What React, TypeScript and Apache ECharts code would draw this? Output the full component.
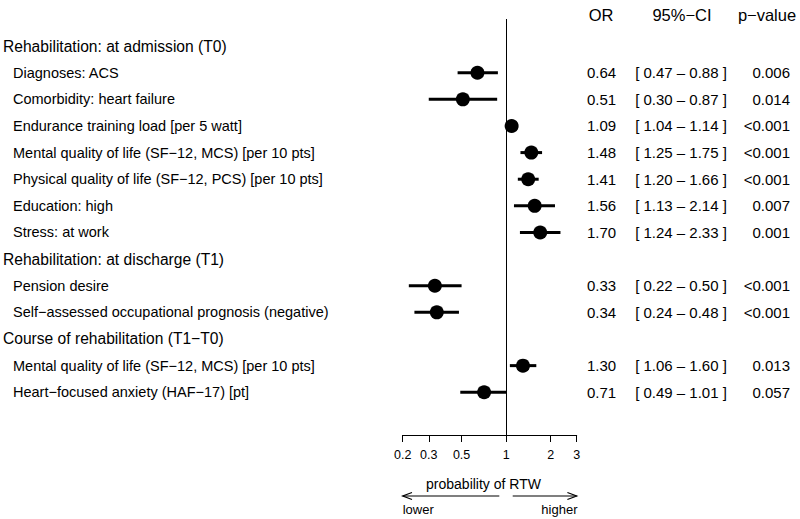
import React, { useEffect, useRef } from 'react';
import * as echarts from 'echarts';

const labels = [
  'Rehabilitation: at admission (T0)',
  'Diagnoses: ACS',
  'Comorbidity: heart failure',
  'Endurance training load [per 5 watt]',
  'Mental quality of life (SF\u221212, MCS) [per 10 pts]',
  'Physical quality of life (SF\u221212, PCS) [per 10 pts]',
  'Education: high',
  'Stress: at work',
  'Rehabilitation: at discharge (T1)',
  'Pension desire',
  'Self\u2212assessed occupational prognosis (negative)',
  'Course of rehabilitation (T1\u2212T0)',
  'Mental quality of life (SF\u221212, MCS) [per 10 pts]',
  'Heart\u2212focused anxiety (HAF\u221217) [pt]',
];
const isGroup = [true, false, false, false, false, false, false, false, true, false, false, true, false, false];
const orValues = [null, 0.64, 0.51, 1.09, 1.48, 1.41, 1.56, 1.70, null, 0.33, 0.34, null, 1.30, 0.71];
const ciLow = [null, 0.47, 0.30, 1.04, 1.25, 1.20, 1.13, 1.24, null, 0.22, 0.24, null, 1.06, 0.49];
const ciHigh = [null, 0.88, 0.87, 1.14, 1.75, 1.66, 2.14, 2.33, null, 0.50, 0.48, null, 1.60, 1.01];
const pValues = ['', '0.006', '0.014', '<0.001', '<0.001', '<0.001', '0.007', '0.001', '', '<0.001', '<0.001', '', '0.013', '0.057'];
const tickValues = [0.2, 0.3, 0.5, 1, 2, 3];
const columnHeaders = ['OR', '95%\u2212CI', 'p\u2212value'];
const axisTitle = 'probability of RTW';
const arrowLabels = ['lower', 'higher'];

const FONT = '"Liberation Sans", Arial, Helvetica, sans-serif';

export default function App() {
  const ref = useRef<HTMLDivElement>(null);
  useEffect(() => {
    const chart = echarts.init(ref.current!, null, { renderer: 'svg' });
    const ciData: any[] = [];
    const pointData: any[] = [];
    orValues.forEach((v, i) => {
      if (v != null) {
        ciData.push([ciLow[i], ciHigh[i], i]);
        pointData.push([v, i]);
      }
    });
    const textData = labels.map((_, i) => [1, i]);
    const fmt = (v: number | null) => (v == null ? '' : v.toFixed(2));

    chart.setOption({
      animation: false,
      grid: { left: 402.7, right: 223.3, top: 19, bottom: 84, containLabel: false },
      xAxis: {
        type: 'log',
        logBase: 10,
        position: 'bottom',
        min: 0.2,
        max: 3,
        axisLine: { show: true, onZero: false, lineStyle: { color: '#000', width: 1 } },
        axisTick: { show: true, customValues: tickValues, length: 7, lineStyle: { color: '#000', width: 1 } },
        axisLabel: {
          show: true,
          customValues: tickValues,
          formatter: (v: number) => String(v),
          color: '#000',
          fontFamily: FONT,
          fontSize: 12.5,
          margin: 13,
        },
        splitLine: { show: false },
        minorTick: { show: false },
      },
      yAxis: {
        type: 'value',
        inverse: true,
        min: -1.0165,
        max: 14.605,
        show: false,
        splitLine: { show: false },
      },
      series: [
        {
          type: 'custom',
          z: 3,
          data: ciData,
          encode: { x: [0, 1], y: 2 },
          renderItem: (params: any, api: any) => {
            const r = api.value(2);
            const p1 = api.coord([api.value(0), r]);
            const p2 = api.coord([api.value(1), r]);
            return {
              type: 'line',
              shape: { x1: p1[0], y1: p1[1], x2: p2[0], y2: p2[1] },
              style: { stroke: '#000', lineWidth: 3 },
            };
          },
        },
        {
          type: 'scatter',
          z: 4,
          data: pointData,
          symbol: 'circle',
          symbolSize: 14,
          itemStyle: { color: '#000', opacity: 1 },
          markLine: {
            silent: true,
            symbol: ['none', 'none'],
            z: 1,
            label: { show: false },
            lineStyle: { color: '#000', width: 1, type: 'solid', opacity: 1 },
            data: [{ xAxis: 1 }],
          },
        },
        {
          type: 'custom',
          z: 5,
          clip: false,
          data: textData,
          encode: { x: 0, y: 1 },
          renderItem: (params: any, api: any) => {
            const i = params.dataIndex;
            const y = api.coord([1, api.value(1)])[1];
            const children: any[] = [
              {
                type: 'text',
                x: isGroup[i] ? 3 : 13,
                y,
                style: {
                  text: labels[i],
                  fill: '#000',
                  font: `${isGroup[i] ? 15.6 : 14.5}px ${FONT}`,
                  textAlign: 'left',
                  textVerticalAlign: 'middle',
                },
              },
            ];
            if (orValues[i] != null) {
              children.push(
                {
                  type: 'text',
                  x: 601.5,
                  y,
                  style: { text: fmt(orValues[i]), fill: '#000', font: `15px ${FONT}`, textAlign: 'center', textVerticalAlign: 'middle' },
                },
                {
                  type: 'text',
                  x: 681,
                  y,
                  style: {
                    text: `[ ${fmt(ciLow[i])} \u2013 ${fmt(ciHigh[i])} ]`,
                    fill: '#000',
                    font: `15px ${FONT}`,
                    textAlign: 'center',
                    textVerticalAlign: 'middle',
                  },
                },
                {
                  type: 'text',
                  x: 790,
                  y,
                  style: { text: pValues[i], fill: '#000', font: `15px ${FONT}`, textAlign: 'right', textVerticalAlign: 'middle' },
                }
              );
            }
            return { type: 'group', children };
          },
        },
      ],
      graphic: [
        { type: 'text', x: 601, y: 15, style: { text: columnHeaders[0], fill: '#000', font: `16.5px ${FONT}`, textAlign: 'center', textVerticalAlign: 'middle' } },
        { type: 'text', x: 682, y: 15, style: { text: columnHeaders[1], fill: '#000', font: `16.5px ${FONT}`, textAlign: 'center', textVerticalAlign: 'middle' } },
        { type: 'text', x: 767, y: 15, style: { text: columnHeaders[2], fill: '#000', font: `16.5px ${FONT}`, textAlign: 'center', textVerticalAlign: 'middle' } },
        { type: 'text', x: 483.5, y: 484, style: { text: axisTitle, fill: '#000', font: `14px ${FONT}`, textAlign: 'center', textVerticalAlign: 'middle' } },
        { type: 'line', shape: { x1: 402.7, y1: 496, x2: 499.3, y2: 496 }, style: { stroke: '#000', lineWidth: 1.2 } },
        { type: 'polyline', shape: { points: [[412, 492.5], [402.7, 496], [412, 499.5]] }, style: { stroke: '#000', lineWidth: 1.2, fill: null } },
        { type: 'line', shape: { x1: 512.7, y1: 496, x2: 576.7, y2: 496 }, style: { stroke: '#000', lineWidth: 1.2 } },
        { type: 'polyline', shape: { points: [[567.4, 492.5], [576.7, 496], [567.4, 499.5]] }, style: { stroke: '#000', lineWidth: 1.2, fill: null } },
        { type: 'text', x: 402.7, y: 509, style: { text: arrowLabels[0], fill: '#000', font: `13px ${FONT}`, textAlign: 'left', textVerticalAlign: 'middle' } },
        { type: 'text', x: 577.5, y: 509, style: { text: arrowLabels[1], fill: '#000', font: `13px ${FONT}`, textAlign: 'right', textVerticalAlign: 'middle' } },
      ],
    });
    return () => chart.dispose();
  }, []);
  return <div ref={ref} style={{ position: 'absolute', left: 0, top: 0, width: 800, height: 519 }} />;
}
